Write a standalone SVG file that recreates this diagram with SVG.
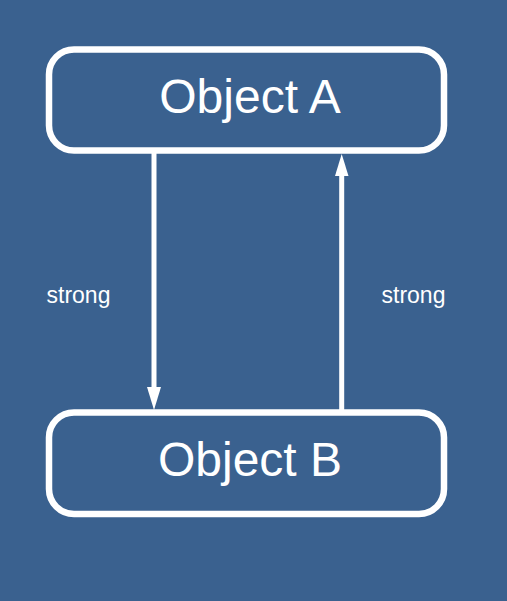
<svg xmlns="http://www.w3.org/2000/svg" width="507" height="601" viewBox="0 0 507 601">
<defs>
<style>
.node rect{fill:none;stroke:#fff;stroke-width:6.5}
.node text{fill:#fff;font-family:"Liberation Sans",Arial,sans-serif;font-size:48px;text-anchor:middle}
.edge line{stroke:#fff;stroke-width:5}
.edge polygon{fill:#fff}
.lbl{fill:#fff;font-family:"Liberation Sans",Arial,sans-serif;font-size:23px}
</style>
</defs>
<rect width="507" height="601" fill="#3a618f"/>
<g id="objectA" class="node">
<rect x="49" y="49.5" width="395" height="101" rx="25"/>
<text x="250" y="113">Object A</text>
</g>
<g id="objectB" class="node">
<rect x="49" y="412.5" width="395" height="101.5" rx="25"/>
<text x="250" y="475.5">Object B</text>
</g>
<g id="connectors" class="edge">
<line x1="154" y1="153" x2="154" y2="390"/>
<polygon points="147,387 161,387 154,410"/>
<line x1="341.7" y1="410" x2="341.7" y2="173"/>
<polygon points="335,176 348.5,176 341.7,154"/>
<text class="lbl" x="46.5" y="303">strong</text>
<text class="lbl" x="381.5" y="303">strong</text>
</g>
</svg>
